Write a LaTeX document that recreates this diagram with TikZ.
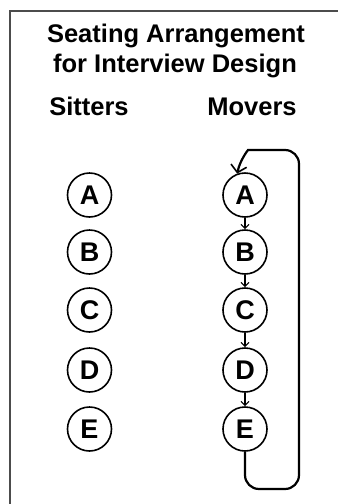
\documentclass[tikz,border=0pt]{standalone}
\usepackage{fontspec}
\setmainfont{Liberation Sans}
\usetikzlibrary{arrows.meta}
\begin{document}
\begin{tikzpicture}[x=1pt,y=-1pt,
  titletext/.style={font=\fontsize{25.5}{28}\selectfont\bfseries, inner sep=0pt, anchor=base},
  seat/.style={circle, draw, line width=1.6pt, minimum size=44pt, inner sep=0pt,
               font=\fontsize{27}{28}\selectfont\bfseries},
  moveto/.style={line width=1.2pt, -{Straight Barb[length=4pt,width=8pt,line width=1.2pt]}},
  loopline/.style={line width=2.2pt, rounded corners=14pt,
               -{Straight Barb[length=7pt,width=16pt,line width=1.6pt]}},
  frame/.style={line width=2pt, black!70}]
\useasboundingbox (0,0) rectangle (338,504);
\draw[frame] (9.5,504) -- (9.5,11) -- (338,11);
\node[titletext] (t1) at (176,42) {Seating Arrangement};
\node[titletext] (t2) at (175,72) {for Interview Design};
\node[titletext] (hs) at (89,115) {Sitters};
\node[titletext] (hm) at (252,115) {Movers};
\foreach \l/\y in {A/195,B/252,C/310,D/370,E/429}{
  \node[seat] (s\l) at (89.5,\y) {\l};
  \node[seat] (m\l) at (245,\y) {\l};
}
\draw[moveto] (mA) -- (mB);
\draw[moveto] (mB) -- (mC);
\draw[moveto] (mC) -- (mD);
\draw[moveto] (mD) -- (mE);
\coordinate (b1) at (244,489);
\coordinate (b2) at (299,489);
\coordinate (r1) at (299,150);
\coordinate (r2) at (262,150);
\draw[loopline] (mE.south) |- (b2) -- (r1) -- (r2) [sharp corners] .. controls (248,150) and (240,160) .. (mA.110);
\end{tikzpicture}
\end{document}
